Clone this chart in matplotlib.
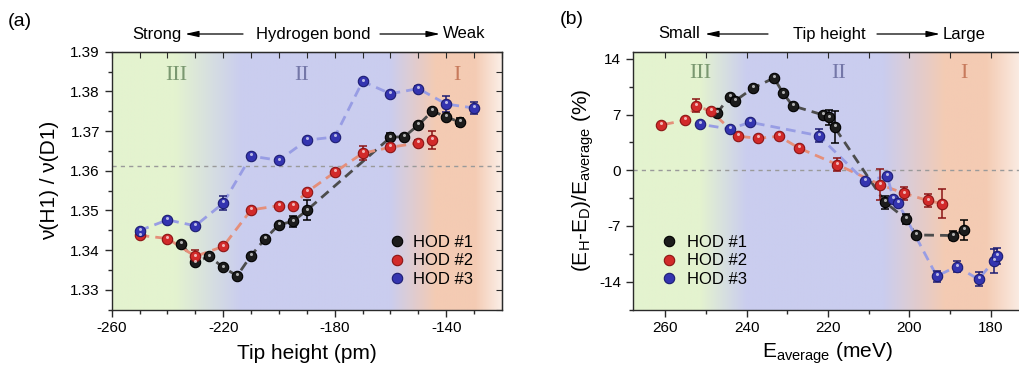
import matplotlib
matplotlib.use("Agg")
import matplotlib.pyplot as plt
import numpy as np
from matplotlib import transforms
from matplotlib.colors import LinearSegmentedColormap
from matplotlib.lines import Line2D
from matplotlib.patches import FancyArrowPatch

plt.rcParams['font.family'] = ['Liberation Sans', 'DejaVu Sans']
plt.rcParams['mathtext.fontset'] = 'custom'
plt.rcParams['mathtext.rm'] = 'Liberation Sans'
plt.rcParams['mathtext.it'] = 'Liberation Sans:italic'
plt.rcParams['axes.unicode_minus'] = False

# ---- panel (a): frequency ratio vs tip height ----
a_x1 = [-235, -230, -225, -220, -215, -210, -205, -200, -195, -190, -160, -155, -150, -145, -140, -135]
a_y1 = [1.3416, 1.3369, 1.3384, 1.3356, 1.3335, 1.3386, 1.3428, 1.3464, 1.3472, 1.3500,
        1.3684, 1.3686, 1.3715, 1.3750, 1.3736, 1.3722]
a_e1 = [0, 0.0005, 0, 0, 0, 0, 0, 0, 0.0015, 0.0025, 0.001, 0, 0, 0, 0, 0.001]

a_x2 = [-250, -240, -230, -220, -210, -200, -195, -190, -180, -170, -160, -150, -145]
a_y2 = [1.3437, 1.3429, 1.3384, 1.3409, 1.3501, 1.3512, 1.3512, 1.3546, 1.3596, 1.3644,
        1.3659, 1.3670, 1.3677]
a_e2 = [0, 0, 0.0016, 0, 0, 0, 0, 0, 0.0007, 0.0017, 0.0008, 0.0008, 0.0022]

a_x3 = [-250, -240, -230, -220, -210, -200, -190, -180, -170, -160, -150, -140, -130]
a_y3 = [1.3449, 1.3476, 1.3461, 1.3518, 1.3637, 1.3626, 1.3677, 1.3685, 1.3825, 1.3794,
        1.3807, 1.3768, 1.3758]
a_e3 = [0, 0, 0, 0.0018, 0, 0, 0, 0, 0.0006, 0, 0.0007, 0.0021, 0.0015]

# ---- panel (b): relative energy difference vs E_average ----
b_x1 = [247.3, 244.2, 242.9, 238.5, 233.3, 231.0, 228.7, 221.2, 219.7, 218.4, 206.0, 200.9,
        198.4, 189.4, 186.5]
b_y1 = [7.16, 9.25, 8.7, 10.3, 11.6, 9.67, 8.1, 6.95, 6.65, 5.4, -4.02, -6.1, -8.13, -8.2, -7.5]
b_e1 = [0, 0, 0, 0, 0, 0, 0, 0, 0.9, 2.0, 0.8, 0.6, 0, 0.6, 1.3]

b_x2 = [261.0, 255.1, 252.4, 248.8, 242.1, 237.1, 232.0, 227.2, 217.7, 207.2, 201.3, 195.5, 192.0]
b_y2 = [5.69, 6.28, 8.12, 7.41, 4.27, 4.02, 4.27, 2.8, 0.7, -1.8, -2.9, -3.8, -4.2]
b_e2 = [0, 0, 0.8, 0, 0, 0, 0, 0, 0.8, 2.0, 0.8, 0.8, 1.8]

b_x3 = [251.4, 244.2, 239.1, 222.3, 211.0, 205.4, 204.0, 202.8, 193.3, 188.4, 183.0, 179.3, 178.5]
b_y3 = [5.78, 5.19, 6.03, 4.35, -1.34, -0.75, -3.6, -4.1, -13.3, -12.1, -13.7, -11.4, -10.8]
b_e3 = [0, 0, 0, 0.8, 0, 0, 0, 0, 0.7, 0.7, 0.9, 1.5, 1.0]

labels = ['HOD #1', 'HOD #2', 'HOD #3']
face = ['#1c1c1c', '#d22a2a', '#3434b0']
edge = ['#000000', '#8c1414', '#1c1c72']
line_col = ['#4c4c4c', '#e58f7a', '#989de4']

GREEN = '#e4f3cf'
BLUE = '#cacdef'
PEACH = '#f4cbb3'
LIGHT = '#fbefe8'

fig = plt.figure(figsize=(10.19, 3.73), dpi=100)
axa = fig.add_axes([0.1096, 0.1702, 0.3830, 0.6912])
axb = fig.add_axes([0.6209, 0.1702, 0.3830, 0.6912])


def gradient(ax, stops):
    cmap = LinearSegmentedColormap.from_list('bg', stops)
    ax.imshow(np.linspace(0, 1, 512)[None, :], cmap=cmap, aspect='auto',
              extent=[0, 1, 0, 1], transform=ax.transAxes, zorder=0, interpolation='bilinear')


def series(ax, x, y, e, i):
    order = np.argsort(x)
    xs = np.array(x)[order]
    ys = np.array(y)[order]
    ax.plot(xs, ys, color=line_col[i], lw=2, dashes=(3.5, 2.2), zorder=2)
    err = np.array(e)
    m = err > 0
    ax.errorbar(np.array(x)[m], np.array(y)[m], yerr=err[m], fmt='none', ecolor=edge[i],
                elinewidth=1.1, capsize=3, capthick=1.1, zorder=3)
    ax.plot(x, y, 'o', ms=7.5, mfc=face[i], mec=edge[i], mew=0.8, ls='none', zorder=4)
    hl = transforms.offset_copy(ax.transData, fig=fig, x=0, y=1.3, units='points')
    ax.plot(x, y, 'o', ms=2.2, mfc='white', mec='none', alpha=0.65, ls='none',
            transform=hl, zorder=5)


def style(ax):
    for s in ax.spines.values():
        s.set_color('#2a2a2a')
        s.set_linewidth(1)
    ax.tick_params(which='both', direction='out', labelsize=11, color='#2a2a2a', width=1)
    ax.tick_params(which='major', length=5)
    ax.tick_params(which='minor', length=3)


# panel (a)
gradient(axa, [(0, GREEN), (0.16, GREEN), (0.33, BLUE), (0.71, BLUE), (0.83, PEACH),
               (0.93, PEACH), (1.0, LIGHT)])
axa.axhline(1.3612, color='#9a9a9a', lw=1, dashes=(3, 3), zorder=1)
for i, (x, y, e) in enumerate([(a_x1, a_y1, a_e1), (a_x2, a_y2, a_e2), (a_x3, a_y3, a_e3)]):
    series(axa, x, y, e, i)
axa.set_xlim(-260, -120)
axa.set_ylim(1.325, 1.39)
axa.set_xticks([-260, -220, -180, -140])
axa.set_xticks(np.arange(-250, -120, 10), minor=True)
axa.set_yticks(np.arange(1.33, 1.3901, 0.01))
axa.set_yticks(np.arange(1.325, 1.39, 0.005), minor=True)
axa.yaxis.set_major_formatter(plt.FormatStrFormatter('%.2f'))
style(axa)
axa.set_xlabel('Tip height (pm)', fontsize=15, labelpad=6)
axa.set_ylabel('\u03bd(H1) / \u03bd(D1)', fontsize=15, labelpad=8)
top_a = axa.secondary_xaxis('top')
top_a.set_xticks(np.arange(-260, -119, 10))
top_a.tick_params(direction='in', length=4, labeltop=False, color='#2a2a2a')
right_a = axa.secondary_yaxis('right')
right_a.set_yticks(np.arange(1.325, 1.3901, 0.005))
right_a.tick_params(direction='in', length=4, labelright=False, color='#2a2a2a')
axa.text(-237, 1.384, 'III', fontsize=16, family='Liberation Serif', color='#7a9870',
         ha='center', va='center', zorder=6)
axa.text(-192, 1.384, 'II', fontsize=16, family='Liberation Serif', color='#7477a8',
         ha='center', va='center', zorder=6)
axa.text(-136, 1.384, 'I', fontsize=16, family='Liberation Serif', color='#c77a5c',
         ha='center', va='center', zorder=6)

# panel (b)
gradient(axb, [(0, GREEN), (0.17, GREEN), (0.29, BLUE), (0.64, BLUE), (0.80, PEACH),
               (0.905, PEACH), (1.0, LIGHT)])
axb.axhline(0, color='#9a9a9a', lw=1, dashes=(3, 3), zorder=1)
for i, (x, y, e) in enumerate([(b_x1, b_y1, b_e1), (b_x2, b_y2, b_e2), (b_x3, b_y3, b_e3)]):
    series(axb, x, y, e, i)
axb.set_xlim(268, 172.1)
axb.set_ylim(-17.5, 14.9)
axb.set_xticks([260, 240, 220, 200, 180])
axb.set_xticks([250, 230, 210, 190], minor=True)
axb.set_yticks([-14, -7, 0, 7, 14])
axb.set_yticks([-17.5, -10.5, -3.5, 3.5, 10.5], minor=True)
style(axb)
axb.set_xlabel('E$_{\\rm average}$ (meV)', fontsize=15, labelpad=4)
axb.set_ylabel('(E$_{\\rm H}$-E$_{\\rm D}$)/E$_{\\rm average}$ (%)', fontsize=15, labelpad=2)
top_b = axb.secondary_xaxis('top')
top_b.set_xticks(np.arange(180, 261, 10))
top_b.tick_params(direction='in', length=4, labeltop=False, color='#2a2a2a')
axb.text(251.4, 12.1, 'III', fontsize=16, family='Liberation Serif', color='#7a9870',
         ha='center', va='center', zorder=6)
axb.text(217.3, 12.1, 'II', fontsize=16, family='Liberation Serif', color='#7477a8',
         ha='center', va='center', zorder=6)
axb.text(186.5, 12.1, 'I', fontsize=16, family='Liberation Serif', color='#c77a5c',
         ha='center', va='center', zorder=6)

# legends
handles = [Line2D([], [], marker='o', ls='none', ms=7.5, mfc=face[i], mec=edge[i], mew=0.8)
           for i in range(3)]
axa.legend(handles, labels, loc='lower right', bbox_to_anchor=(0.965, 0.03), frameon=False,
           fontsize=12, handletextpad=0.4, labelspacing=0.2, handlelength=1.2)
axb.legend(handles, labels, loc='lower left', bbox_to_anchor=(0.03, 0.03), frameon=False,
           fontsize=12, handletextpad=0.45, labelspacing=0.2, handlelength=1.2)

# panel tags and top annotations
H = 373
fig.text(8, H - 22, '(a)', fontsize=14, ha='left', va='center', transform=None)
fig.text(560, H - 20, '(b)', fontsize=14, ha='left', va='center', transform=None)


def header(left, right, mid, lx, mx, rx, a1, a2):
    y = H - 34
    fig.text(lx, y, left, fontsize=12, ha='right', va='center', transform=None)
    fig.text(mx, y, mid, fontsize=12, ha='center', va='center', transform=None)
    fig.text(rx, y, right, fontsize=12, ha='left', va='center', transform=None)
    for tail, head in [((a1[1], y), (a1[0], y)), ((a2[0], y), (a2[1], y))]:
        fig.add_artist(FancyArrowPatch(tail, head, transform=None,
                                       arrowstyle='-|>,head_length=0.8,head_width=0.18',
                                       mutation_scale=10, lw=0.9, color='black',
                                       shrinkA=0, shrinkB=0))


header('Strong', 'Weak', 'Hydrogen bond', 182, 313, 443, (185, 243), (380, 440))
header('Small', 'Large', 'Tip height', 700, 829, 943, (705, 768), (877, 940))

fig.savefig('out.png', dpi=100)
